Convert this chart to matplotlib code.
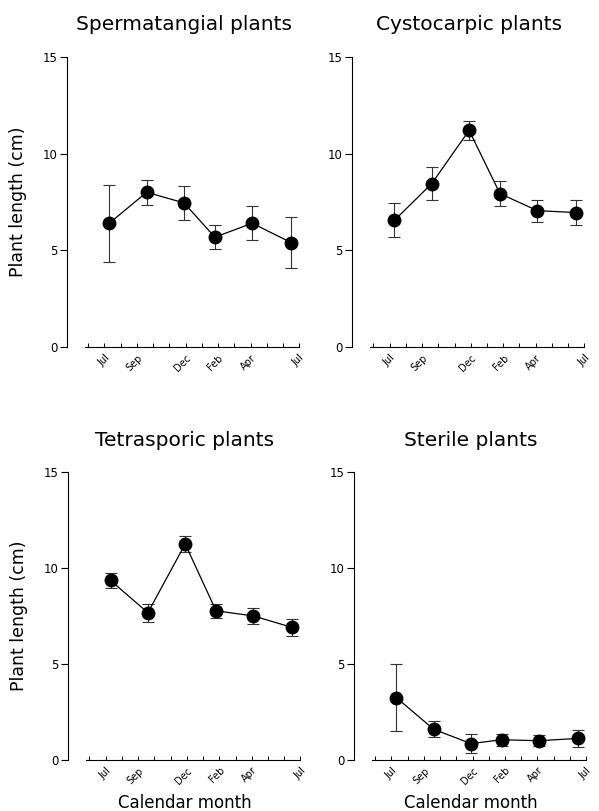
import matplotlib
matplotlib.use('Agg')
import matplotlib.pyplot as plt

# sampling time, months after July
months = [0.3, 2.6, 4.9, 6.8, 9.1, 11.5]
tick_pos = [0, 2, 5, 7, 9, 12]
tick_labels = ['Jul', 'Sep', 'Dec', 'Feb', 'Apr', 'Jul']

titles = ['Spermatangial plants', 'Cystocarpic plants', 'Tetrasporic plants', 'Sterile plants']

sperm_mean = [6.4, 8.0, 7.45, 5.68, 6.4, 5.4]
sperm_err = [2.0, 0.65, 0.88, 0.62, 0.88, 1.33]
cysto_mean = [6.55, 8.45, 11.2, 7.93, 7.05, 6.95]
cysto_err = [0.87, 0.87, 0.5, 0.63, 0.57, 0.64]
tetra_mean = [9.35, 7.67, 11.25, 7.77, 7.5, 6.9]
tetra_err = [0.4, 0.46, 0.4, 0.36, 0.43, 0.44]
steril_mean = [3.25, 1.6, 0.85, 1.05, 1.0, 1.12]
steril_err = [1.75, 0.42, 0.48, 0.3, 0.3, 0.46]

means = [sperm_mean, cysto_mean, tetra_mean, steril_mean]
errs = [sperm_err, cysto_err, tetra_err, steril_err]

fig = plt.figure(figsize=(5.99, 8.11), dpi=100)

# axes boxes in figure fractions (left, bottom, width, height)
boxes = [
    (0.112, 0.572, 0.389, 0.358),
    (0.588, 0.572, 0.389, 0.358),
    (0.114, 0.063, 0.389, 0.355),
    (0.591, 0.063, 0.389, 0.355),
]

for i in range(4):
    ax = fig.add_axes(boxes[i])
    ax.errorbar(months, means[i], yerr=errs[i], fmt='o-', color='black',
                markersize=9, linewidth=0.9, elinewidth=0.8, capsize=4,
                capthick=0.8, ecolor='#333333')
    ax.set_xlim(-2.3, 12.05)
    ax.set_ylim(0, 15)
    ax.spines['top'].set_visible(False)
    ax.spines['right'].set_visible(False)
    ax.spines['left'].set_linewidth(0.8)
    ax.spines['bottom'].set_linewidth(0.8)
    ax.spines['bottom'].set_bounds(-1.2, 12)
    ax.set_yticks([0, 5, 10, 15])
    ax.tick_params(axis='y', direction='out', length=5, width=0.8, labelsize=8.5, pad=2)
    ax.set_xticks(tick_pos)
    ax.set_xticks(range(-1, 13), minor=True)
    ax.set_xticklabels(tick_labels, rotation=45, ha='right', va='top',
                       rotation_mode='anchor', fontsize=7)
    ax.tick_params(axis='x', which='both', direction='in', length=3, width=0.7, pad=4)
    ax.set_title(titles[i], fontsize=14.5, pad=19)
    if i % 2 == 0:
        ax.set_ylabel('Plant length (cm)', fontsize=12.5, labelpad=11)
    if i >= 2:
        ax.set_xlabel('Calendar month', fontsize=12, labelpad=6)

fig.savefig('out.png', dpi=100)
